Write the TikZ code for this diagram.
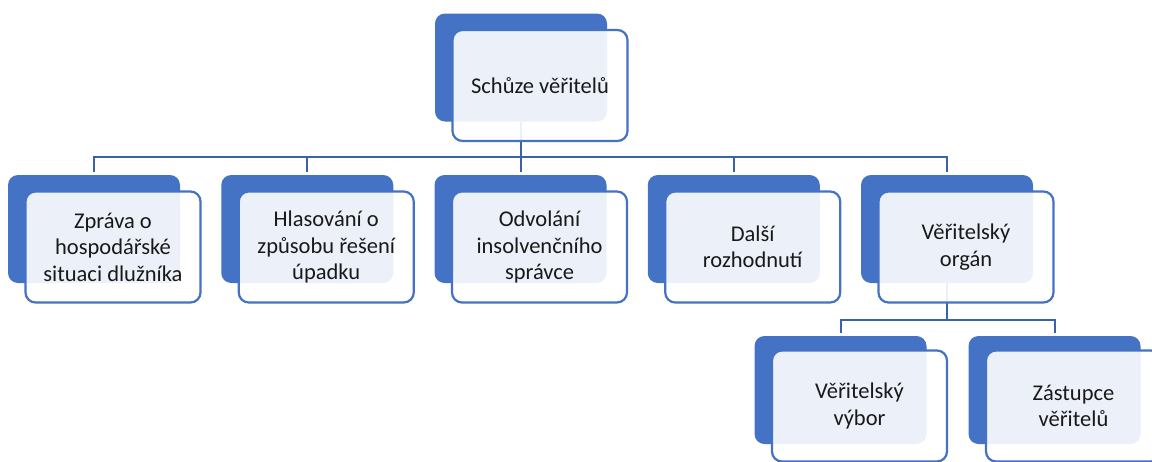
\documentclass[tikz,border=0pt]{standalone}
\usepackage{fontspec}
\setmainfont{Carlito}
\definecolor{accent}{RGB}{68,114,196}
\definecolor{connc}{RGB}{58,98,172}
\definecolor{txt}{RGB}{25,25,25}
\begin{document}
\begin{tikzpicture}[x=1pt,y=-1pt,
  backbox/.style={rectangle, rounded corners=10pt, fill=accent, draw=none,
    minimum width=172pt, minimum height=108pt, inner sep=0pt},
  frontbox/.style={rectangle, rounded corners=10pt, fill=white, fill opacity=0.9,
    text opacity=1, draw=accent, line width=2.2pt, draw opacity=1,
    minimum width=175pt, minimum height=111pt, inner sep=2pt,
    align=center, text=txt, font=\fontsize{22.5}{26.5}\selectfont},
  conn/.style={draw=connc, line width=2pt}]
\useasboundingbox (0,0) rectangle (1152,461);
% back boxes
\node[backbox] (topb) at (521,67.5) {};
\node[backbox] (ab) at (94,229) {};
\node[backbox] (bb) at (307.25,229) {};
\node[backbox] (cb) at (520.5,229) {};
\node[backbox] (db) at (733.75,229) {};
\node[backbox] (eb) at (947,229) {};
\node[backbox] (fb) at (840.5,390) {};
\node[backbox] (gb) at (1054.5,390) {};
% connectors
\coordinate (bus) at (0,157);
\coordinate (busb) at (0,320);
\foreach \c in {ab,bb,cb,db,eb}
  \draw[conn, shorten >=3pt] (topb.south) -- (topb.south |- bus) -| (\c.north);
\foreach \c in {fb,gb}
  \draw[conn, shorten >=3pt] (eb.south) -- (eb.south |- busb) -| (\c.north);
% front boxes
\node[frontbox] (top) at (540,85.5) {Schůze věřitelů};
\node[frontbox] (a) at (113,247) {Zpráva o\\hospodářské\\situaci dlužníka};
\node[frontbox] (b) at (326.25,247) {Hlasování o\\způsobu řešení\\úpadku};
\node[frontbox] (c) at (539.5,247) {Odvolání\\insolvenčního\\správce};
\node[frontbox] (d) at (752.75,247) {Další\\rozhodnutí};
\node[frontbox] (e) at (966,247) {Věřitelský\\orgán};
\node[frontbox] (f) at (859.5,406) {Věřitelský\\výbor};
\node[frontbox] (g) at (1073.5,406) {Zástupce\\věřitelů};
\end{tikzpicture}
\end{document}
